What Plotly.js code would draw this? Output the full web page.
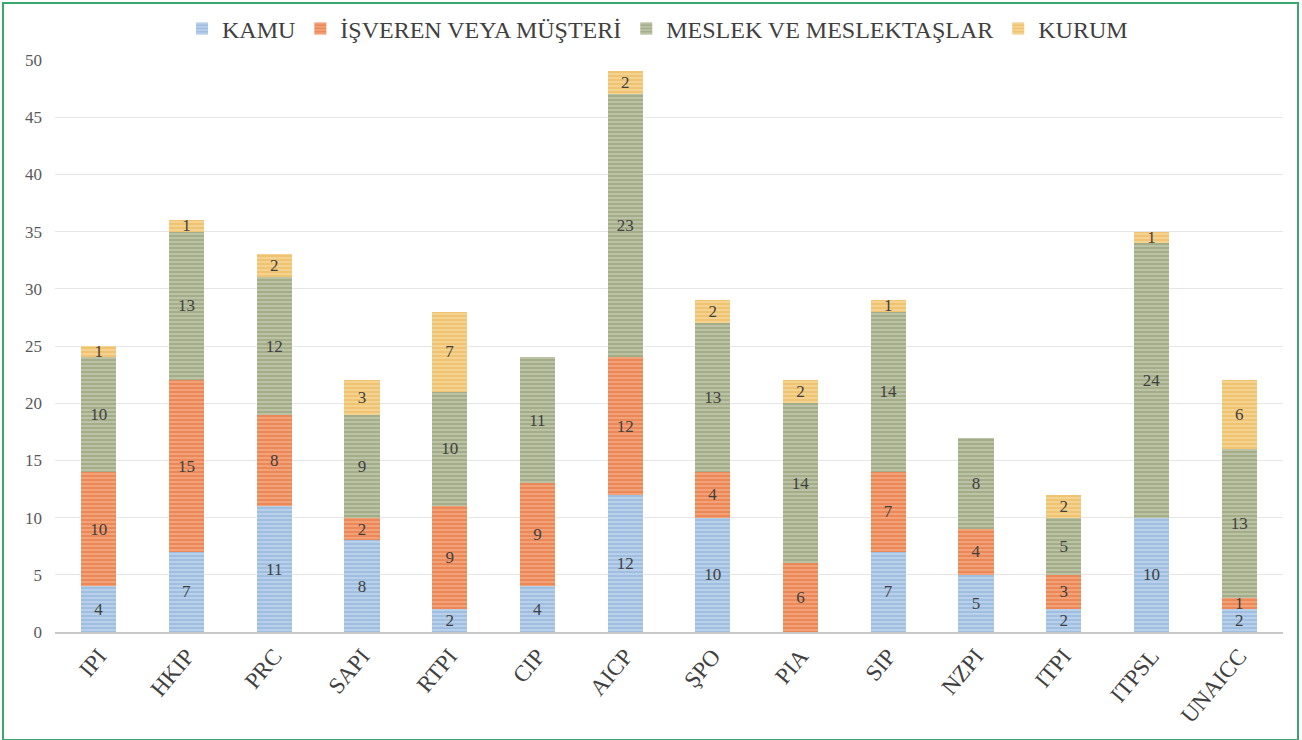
<!DOCTYPE html>
<html>
<head>
<meta charset="utf-8">
<script src="https://cdn.plot.ly/plotly-3.0.1.min.js"></script>
<style>
body{margin:0;padding:0;background:#fff;}
#wrap{position:relative;width:1302px;height:740px;}
#chart{width:1302px;height:740px;}
#frame{position:absolute;left:2px;top:2px;width:1293px;height:735px;border:2px solid #3aa76c;pointer-events:none;}
</style>
</head>
<body>
<div id="wrap"><div id="chart"></div><div id="frame"></div></div>
<script>
const categories = ['IPI','HKIP','PRC','SAPI','RTPI','CIP','AICP','ŞPO','PIA','SIP','NZPI','ITPI','ITPSL','UNAICC'];
const seriesNames = ['KAMU','İŞVEREN VEYA MÜŞTERİ','MESLEK VE MESLEKTAŞLAR','KURUM'];
const kamu    = [4, 7, 11, 8, 2, 4, 12, 10, 0, 7, 5, 2, 10, 2];
const isveren = [10, 15, 8, 2, 9, 9, 12, 4, 6, 7, 4, 3, 0, 1];
const meslek  = [10, 13, 12, 9, 10, 11, 23, 13, 14, 14, 8, 5, 24, 13];
const kurum   = [1, 1, 2, 3, 7, 0, 2, 2, 2, 1, 0, 2, 1, 6];
const yTicks = [0,5,10,15,20,25,30,35,40,45,50];

const serif = 'Liberation Serif, Times New Roman, Times, serif';
const baseColors = ['#9fbee0','#ec8757','#a3ad88','#efc370'];
const stripeColors = ['#d2e2f2','#f7bd9c','#d3d8c2','#f9e1b2'];
const allValues = [kamu, isveren, meslek, kurum];

const traces = allValues.map((vals, i) => ({
  type: 'bar',
  name: seriesNames[i],
  x: categories,
  y: vals,
  text: vals.map(v => v > 0 ? String(v) : ''),
  textposition: 'inside',
  insidetextanchor: 'middle',
  textangle: 0,
  constraintext: 'none',
  textfont: {family: serif, size: 17, color: '#404040'},
  insidetextfont: {family: serif, size: 17, color: '#404040'},
  hoverinfo: 'x+y+name',
  marker: {
    color: baseColors[i],
    line: {width: 0},
    pattern: {shape: '-', fgcolor: stripeColors[i], bgcolor: baseColors[i], size: 4, solidity: 0.5, fillmode: 'overlay'}
  }
}));

const layout = {
  width: 1302, height: 740,
  barmode: 'stack',
  bargap: 0.6,
  paper_bgcolor: '#ffffff',
  plot_bgcolor: '#ffffff',
  margin: {l: 55, r: 19, t: 60, b: 108, autoexpand: false},
  font: {family: serif, color: '#404040'},
  showlegend: true,
  legend: {
    orientation: 'h', traceorder: 'normal',
    x: 0.505, xanchor: 'center', xref: 'container',
    y: 0.961, yanchor: 'middle', yref: 'container',
    font: {family: serif, size: 24, color: '#404040'}, itemwidth: 30
  },
  xaxis: {
    type: 'category',
    tickangle: -50,
    tickfont: {family: serif, size: 23, color: '#404040'},
    showline: true, linecolor: '#c8c8c8', linewidth: 1.5,
    ticks: '', showgrid: false
  },
  yaxis: {
    range: [0, 50],
    tickvals: yTicks,
    tickfont: {family: serif, size: 17, color: '#595959'},
    showgrid: true, gridcolor: '#e6e6e6', gridwidth: 1,
    zeroline: false, showline: false, ticks: '',
    ticklabelstandoff: 12
  }
};

Plotly.newPlot('chart', traces, layout, {displayModeBar: false, staticPlot: true});
</script>
</body>
</html>
